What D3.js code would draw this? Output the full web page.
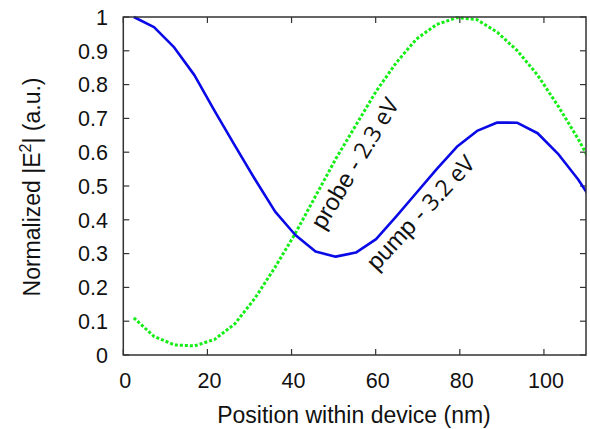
<!DOCTYPE html>
<html><head><meta charset="utf-8">
<script src="https://cdn.jsdelivr.net/npm/d3@7"></script>
<style>body{margin:0;background:#fff}svg{display:block}</style>
</head><body>
<svg id="c" width="590" height="429"></svg>
<script>
const positions = [2.5,7.3,12.1,16.9,21.7,26.5,31.3,36.1,40.9,45.7,50.5,55.3,60.1,64.9,69.7,74.5,79.3,84.1,88.9,93.7,98.5,103.3,108.1,112.9];
const pump  = [1.0,0.97,0.91,0.828,0.722,0.62,0.52,0.424,0.355,0.306,0.291,0.303,0.343,0.41,0.48,0.55,0.616,0.663,0.688,0.687,0.656,0.596,0.52,0.43];
const probe = [0.11,0.055,0.03,0.027,0.046,0.092,0.168,0.26,0.36,0.47,0.58,0.68,0.78,0.865,0.935,0.978,0.998,0.992,0.955,0.9,0.828,0.738,0.64,0.53];
const xTicks = [0,20,40,60,80,100];
const yTicks = [0,0.1,0.2,0.3,0.4,0.5,0.6,0.7,0.8,0.9,1];

const svg = d3.select('#c');
const L=123.3, R=586, T=17, B=355;
const x = d3.scaleLinear().domain([0,110]).range([L,R]);
const y = d3.scaleLinear().domain([0,1]).range([B,T]);
const font = "'Liberation Sans', Arial, sans-serif";

svg.append('defs').append('clipPath').attr('id','clip')
  .append('rect').attr('x',L).attr('y',T-3).attr('width',R-L).attr('height',B-T+6);

const tl = 6;
const ax = svg.append('g').attr('stroke','#333').attr('stroke-width',1.2);
xTicks.forEach(t=>{
  ax.append('line').attr('x1',x(t)).attr('x2',x(t)).attr('y1',B).attr('y2',B-tl);
  ax.append('line').attr('x1',x(t)).attr('x2',x(t)).attr('y1',T).attr('y2',T+tl);
});
yTicks.forEach(t=>{
  ax.append('line').attr('x1',L).attr('x2',L+tl).attr('y1',y(t)).attr('y2',y(t));
  ax.append('line').attr('x1',R).attr('x2',R-tl).attr('y1',y(t)).attr('y2',y(t));
});

const line = d3.line().x((d,i)=>x(positions[i])).y(d=>y(d));
const g = svg.append('g').attr('clip-path','url(#clip)');
g.append('path').datum(probe).attr('d',line).attr('fill','none')
  .attr('stroke','#14ee14').attr('stroke-width',3).attr('stroke-dasharray','3,2');
g.append('path').datum(pump).attr('d',line).attr('fill','none')
  .attr('stroke','#0a0ae6').attr('stroke-width',2.6).attr('stroke-linejoin','round');

svg.append('rect').attr('x',L).attr('y',T).attr('width',R-L).attr('height',B-T)
  .attr('fill','none').attr('stroke','#333').attr('stroke-width',1.5);

xTicks.forEach(t=>{
  svg.append('text').attr('x',x(t)+2).attr('y',388).attr('text-anchor','middle')
    .attr('font-family',font).attr('font-size',21.5).attr('fill','#111').text(t);
});
yTicks.forEach(t=>{
  svg.append('text').attr('x',108).attr('y',y(t)+7.7).attr('text-anchor','end')
    .attr('font-family',font).attr('font-size',21.5).attr('fill','#111').text(t===0?'0':t===1?'1':d3.format('.1f')(t));
});

svg.append('text').attr('x',354).attr('y',423).attr('text-anchor','middle')
  .attr('font-family',font).attr('font-size',23).attr('fill','#111').text('Position within device (nm)');

const yt = svg.append('text').attr('transform','translate(40,187) rotate(-90)').attr('text-anchor','middle')
  .attr('font-family',font).attr('font-size',23).attr('fill','#111');
yt.append('tspan').text('Normalized |E');
yt.append('tspan').attr('font-size',16).attr('dy',-9).text('2');
yt.append('tspan').attr('dy',9).text('| (a.u.)');

const lab1 = svg.append('text').attr('transform','translate(354,163) rotate(-59)')
  .attr('text-anchor','middle').attr('dominant-baseline','central')
  .attr('font-family',font).attr('font-size',24).attr('fill','#111');
lab1.append('tspan').text('probe - ');
lab1.append('tspan').attr('font-family',"'Open Sans', sans-serif").attr('font-size',23).text('2.3 eV');

const lab2 = svg.append('text').attr('transform','translate(420,212) rotate(-47)')
  .attr('text-anchor','middle').attr('dominant-baseline','central')
  .attr('font-family',font).attr('font-size',24).attr('fill','#111');
lab2.append('tspan').text('pump - ');
lab2.append('tspan').attr('font-family',"'Open Sans', sans-serif").attr('font-size',23).text('3.2 eV');
</script>
</body></html>
